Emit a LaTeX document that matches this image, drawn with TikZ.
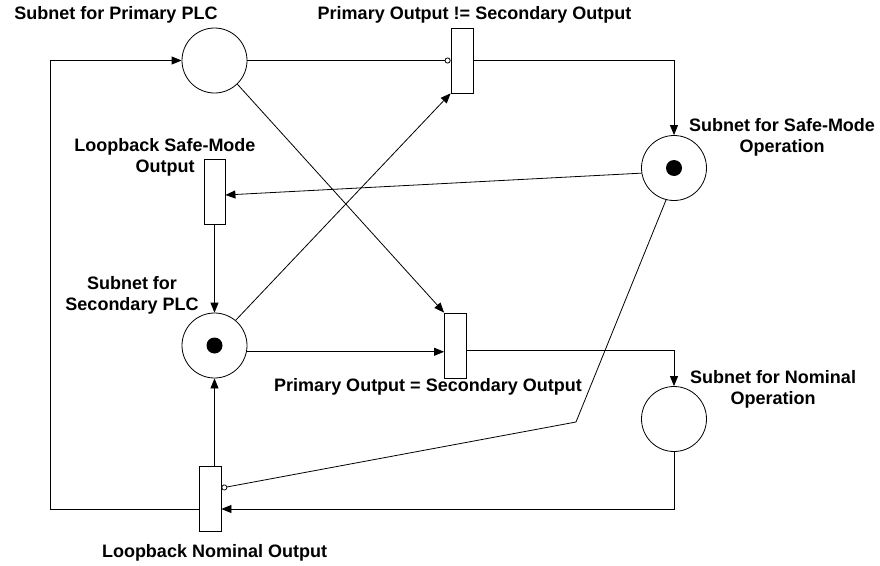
\documentclass[tikz,border=0pt]{standalone}
\usepackage{fontspec}
\setmainfont{Liberation Sans}
\usetikzlibrary{arrows.meta,calc}
\begin{document}
\begin{tikzpicture}[x=1pt,y=-1pt,
  place/.style={draw,circle,minimum size=65pt,inner sep=0pt,line width=0.8pt},
  trans/.style={draw,rectangle,minimum width=22pt,minimum height=65pt,inner sep=0pt,line width=0.8pt},
  token/.style={fill=black,circle,minimum size=16pt,inner sep=0pt},
  arr/.style={line width=0.8pt,-{Triangle[length=10pt,width=8pt]}},
  inh/.style={line width=0.8pt,-{Circle[open,length=6pt,width=6pt]}},
  lbl/.style={font=\fontsize{18}{21}\selectfont\bfseries,align=center,inner sep=0pt}]
\useasboundingbox (0,0) rectangle (880,565);
% places
\node[place] (pp) at (214.5,60.5) {};
\node[place] (ss) at (674,168) {};
\node[token] (ssk) at (674,168) {};
\node[place] (sp) at (214.5,345.5) {};
\node[token] (spk) at (214.5,345.5) {};
\node[place] (nom) at (674,419) {};
% transitions
\node[trans] (tne) at (462,60.5) {};
\node[trans] (teq) at (455.5,345.5) {};
\node[trans,minimum width=21pt] (tlsm) at (214.5,191.5) {};
\node[trans] (tln) at (210,499) {};
% labels
\node[lbl] (l1) at (116,15) {Subnet for Primary PLC};
\node[lbl] (l2) at (474.5,15) {Primary Output != Secondary Output};
\node[lbl] (l3) at (165,157.5) {Loopback Safe-Mode\\Output};
\node[lbl] (l4) at (782,137) {Subnet for Safe-Mode\\Operation};
\node[lbl] (l5) at (132,295) {Subnet for\\Secondary PLC};
\node[lbl] (l6) at (428,387) {Primary Output = Secondary Output};
\node[lbl] (l7) at (773,389) {Subnet for Nominal\\Operation};
\node[lbl] (l8) at (214.5,553) {Loopback Nominal Output};
% coordinates
\coordinate (lcorner) at (50,0);
\coordinate (bend) at (576,422);
% arcs
\draw[inh] (pp.east) -- (tne.west);
\draw[arr] (tne.east) -| (ss.north);
\draw[arr] (ss.189) -- ($(tlsm.east)+(0,3.5)$);
\draw[arr] (tlsm.south) -- (sp.north);
\draw[arr] (sp.-11) -- (sp.-11 -| teq.west);
\draw[arr] ($(teq.east)+(0,4.5)$) -| (nom.north);
\draw[arr] (nom.south) |- ($(tln.east)+(0,10)$);
\draw[arr] (sp.south |- tln.north) -- (sp.south);
\draw[arr] ($(tln.west)+(0,10)$) -| (lcorner |- pp.west) -- (pp.west);
\draw[inh] (ss.256) -- (bend) -- ($(tln.east)+(0,-11)$);
\draw[arr] (pp.-46) -- (teq.north west);
\draw[arr] (sp.50) -- (tne.south west);
\end{tikzpicture}
\end{document}
